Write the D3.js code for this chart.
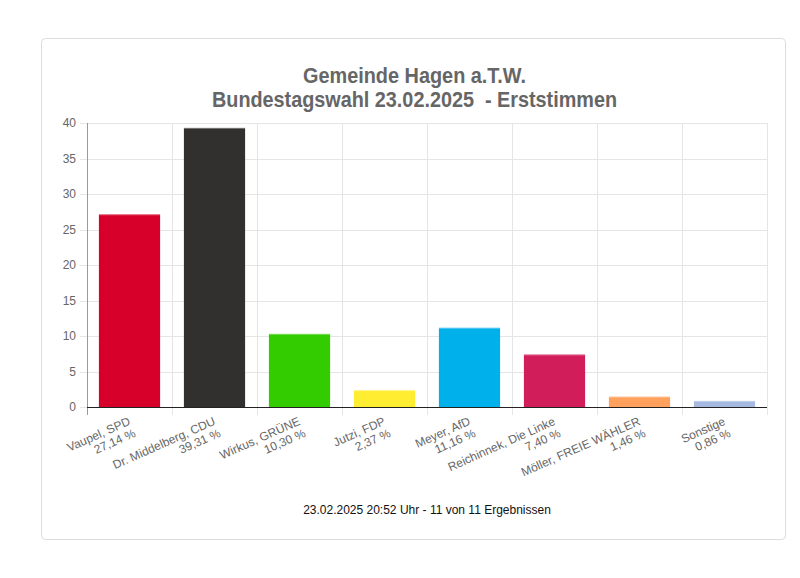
<!DOCTYPE html>
<html><head><meta charset="utf-8">
<script src="https://cdn.jsdelivr.net/npm/d3@7"></script>
<style>
html,body{margin:0;padding:0;background:#fff;}
svg{display:block;font-family:"Liberation Sans",Arial,Helvetica,sans-serif;}
</style></head>
<body>
<svg id="chart" width="800" height="578"></svg>
<script>
const candidates = ["Vaupel, SPD","Dr. Middelberg, CDU","Wirkus, GRÜNE","Jutzi, FDP","Meyer, AfD","Reichinnek, Die Linke","Möller, FREIE WÄHLER","Sonstige"];
const percentLabels = ["27,14 %","39,31 %","10,30 %","2,37 %","11,16 %","7,40 %","1,46 %","0,86 %"];
const values = [27.14,39.31,10.30,2.37,11.16,7.40,1.46,0.86];
const colors = ["#d7002b","#32302e","#33cc00","#ffed32","#00b0eb","#d21d5b","#ffa15c","#a6b9e0"];
const yTicks = [0,5,10,15,20,25,30,35,40];
const titleLines = ["Gemeinde Hagen a.T.W.","Bundestagswahl 23.02.2025  - Erststimmen"];
const footer = "23.02.2025 20:52 Uhr - 11 von 11 Ergebnissen";

const svg = d3.select("#chart");
// card
svg.append("rect").attr("x",41.5).attr("y",38.5).attr("width",744).attr("height",501)
  .attr("rx",4).attr("fill","#fff").attr("stroke","#dcdcdc");

const L=87, R=767, T=123, B=407;
const x = d3.scaleBand().domain(candidates).range([L,R]).paddingInner(0).paddingOuter(0);
const y = d3.scaleLinear().domain([0,40]).range([B,T]);

// title
const titleWidths = [223,405];
svg.append("g").selectAll("text").data(titleLines).join("text")
  .attr("x",414.5).attr("y",(d,i)=>83+i*23.5).attr("text-anchor","middle")
  .attr("xml:space","preserve").style("white-space","pre")
  .attr("textLength",(d,i)=>titleWidths[i]).attr("lengthAdjust","spacingAndGlyphs")
  .attr("font-size",22).attr("font-weight","bold").attr("fill","#666").text(d=>d);

// horizontal grid
const gy = svg.append("g");
gy.selectAll("line").data(yTicks).join("line")
  .attr("x1",L-7).attr("x2",R).attr("y1",d=>Math.round(y(d))+0.5).attr("y2",d=>Math.round(y(d))+0.5)
  .attr("stroke","#e5e5e5");
// vertical grid
const vx = candidates.map(c=>x(c)).concat([R]);
svg.append("g").selectAll("line").data(vx).join("line")
  .attr("x1",d=>Math.round(d)+0.5).attr("x2",d=>Math.round(d)+0.5).attr("y1",T).attr("y2",B+8)
  .attr("stroke","#e5e5e5");
// y axis line
svg.append("line").attr("x1",L+0.5).attr("x2",L+0.5).attr("y1",T).attr("y2",B+8).attr("stroke","#9a9a9a");

// y tick labels
svg.append("g").selectAll("text").data(yTicks).join("text")
  .attr("x",L-11).attr("y",d=>y(d)).attr("dy","0.35em").attr("text-anchor","end")
  .attr("font-size",12).attr("fill","#666").text(d=>d);

// bars
const bw = x.bandwidth()*0.72;
svg.append("g").selectAll("rect").data(values).join("rect")
  .attr("x",(d,i)=>x(candidates[i])+(x.bandwidth()-bw)/2)
  .attr("y",d=>y(d)).attr("width",bw).attr("height",d=>B-y(d))
  .attr("fill",(d,i)=>colors[i]);
svg.append("g").selectAll("line").data(values).join("line")
  .attr("x1",(d,i)=>x(candidates[i])+(x.bandwidth()-bw)/2)
  .attr("x2",(d,i)=>x(candidates[i])+(x.bandwidth()+bw)/2)
  .attr("y1",d=>y(d)+0.5).attr("y2",d=>y(d)+0.5)
  .attr("stroke","#fff").attr("stroke-opacity",0.35);

// zero line
svg.append("line").attr("x1",L).attr("x2",R).attr("y1",B+0.5).attr("y2",B+0.5).attr("stroke","#222").attr("stroke-width",1.2);

// x labels rotated
const ang = -24;
const xl = svg.append("g").selectAll("g").data(candidates).join("g")
  .attr("transform",d=>`translate(${x(d)+x.bandwidth()/2-2},${B+9}) rotate(${ang})`);
xl.append("text").attr("text-anchor","end").attr("font-size",12).attr("fill","#666")
  .attr("y",9).text(d=>d);
xl.append("text").attr("text-anchor","end").attr("font-size",12).attr("fill","#666")
  .attr("y",22).text((d,i)=>percentLabels[i]);

// footer
svg.append("text").attr("x",427).attr("y",514).attr("text-anchor","middle")
  .attr("font-size",12).attr("fill","#111").text(footer);
</script>
</body></html>
